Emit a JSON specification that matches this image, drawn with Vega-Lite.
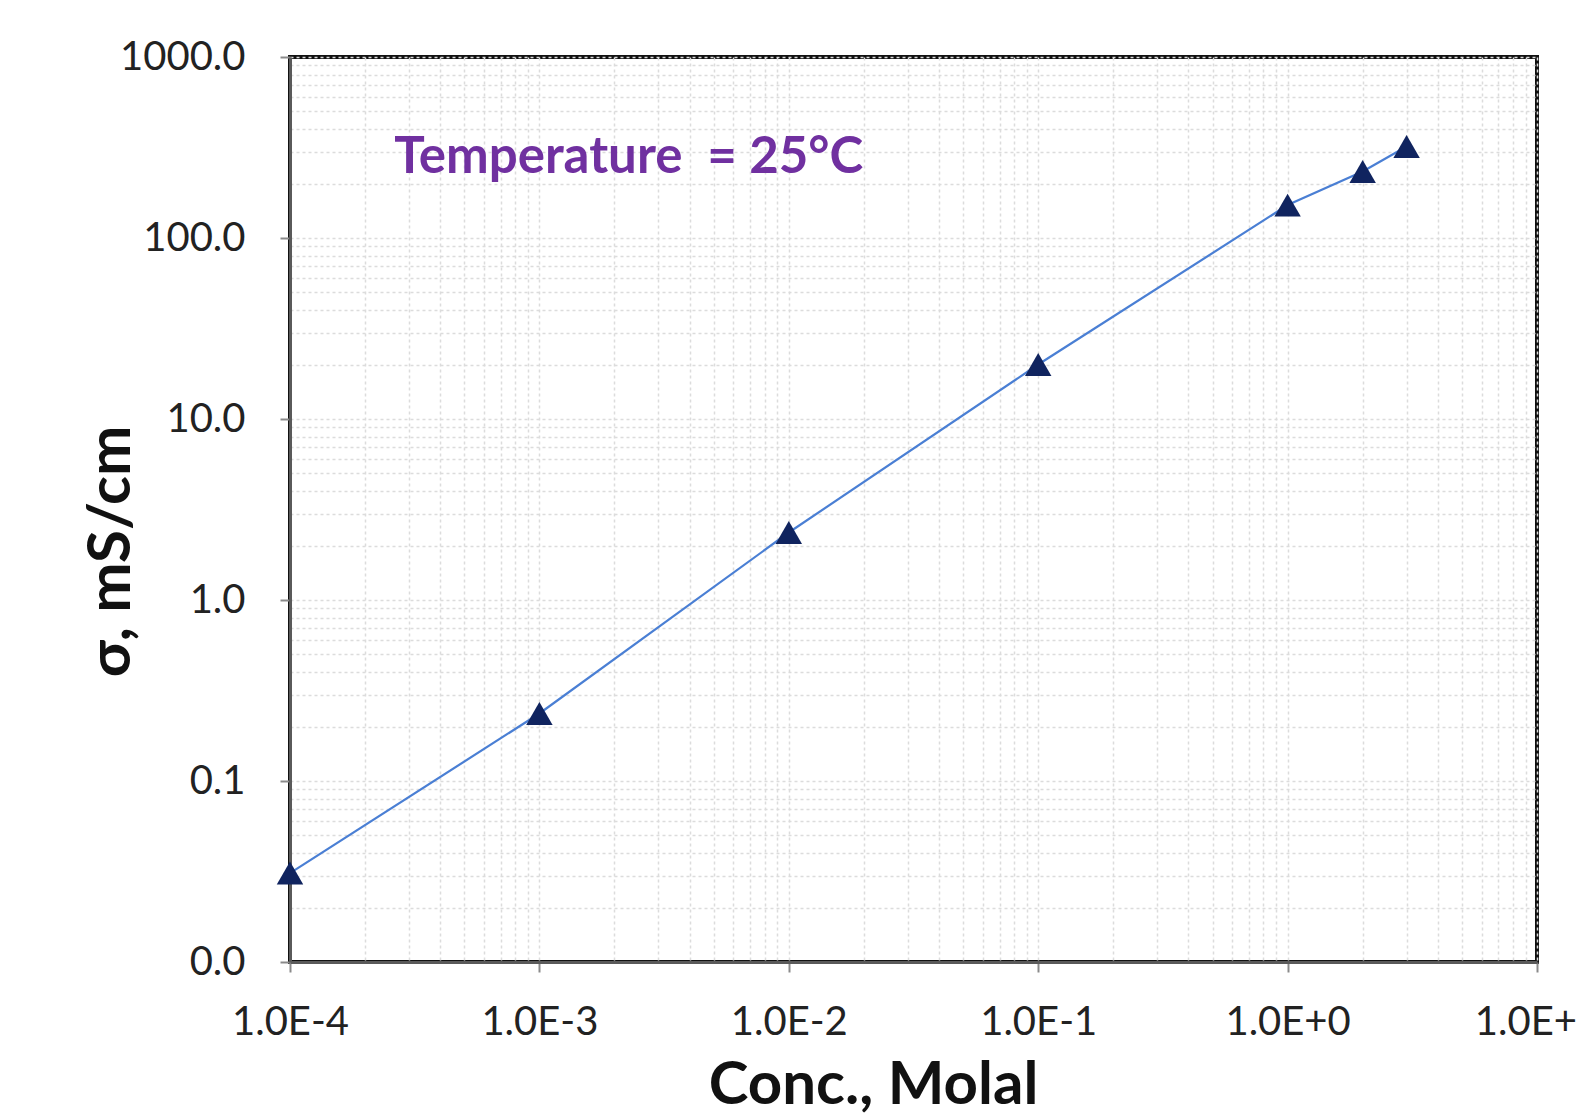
{
  "$schema": "https://vega.github.io/schema/vega-lite/v6.json",
  "autosize": {"type": "none"},
  "width": 1247,
  "height": 905,
  "padding": {"left": 290, "top": 57, "right": 39, "bottom": 152},
  "background": "white",
  "config": {
    "view": {"stroke": "#111111", "strokeWidth": 4},
    "font": "Lato",
    "axis": {
      "labelFont": "Lato",
      "labelFontSize": 40,
      "labelColor": "#222222",
      "titleFont": "Lato",
      "titleColor": "#111111",
      "titleFontWeight": "bold",
      "domainColor": "#5a5a5a",
      "domainWidth": 3,
      "tickColor": "#8a8a8a",
      "tickWidth": 2,
      "tickSize": 10,
      "gridColor": "#dcdcdc",
      "gridDash": [3, 3],
      "gridWidth": 1.5,
      "labelOverlap": false,
      "labelFlush": false,
      "zindex": 1
    }
  },
  "datasets": {
    "pts": [
      {"conc": 0.0001, "sigma": 0.031},
      {"conc": 0.001, "sigma": 0.236},
      {"conc": 0.01, "sigma": 2.36},
      {"conc": 0.1, "sigma": 20.0},
      {"conc": 1, "sigma": 152},
      {"conc": 2, "sigma": 233},
      {"conc": 3, "sigma": 320}
    ],
    "note": [
      {"conc": 0.000262, "sigma": 230, "label": "Temperature \u00a0= 25°C"}
    ]
  },
  "layer": [
    {
      "data": {"name": "pts"},
      "mark": {"type": "line", "color": "#4a7fd4", "strokeWidth": 2.2},
      "encoding": {
        "x": {
          "field": "conc",
          "type": "quantitative",
          "scale": {"type": "log", "domain": [0.0001, 10], "nice": false},
          "axis": {
            "title": "Conc., Molal",
            "titleFontSize": 60,
            "titleX": 583,
            "titleY": 141,
            "titleBaseline": "alphabetic",
            "values": [0.0001, 0.0002, 0.0003, 0.0004, 0.0005, 0.0006, 0.0007, 0.0008, 0.0009,
                       0.001, 0.002, 0.003, 0.004, 0.005, 0.006, 0.007, 0.008, 0.009,
                       0.01, 0.02, 0.03, 0.04, 0.05, 0.06, 0.07, 0.08, 0.09,
                       0.1, 0.2, 0.3, 0.4, 0.5, 0.6, 0.7, 0.8, 0.9,
                       1, 2, 3, 4, 5, 6, 7, 8, 9, 10],
            "labelPadding": 30,
            "labelExpr": "abs(log(datum.value)/LN10 - round(log(datum.value)/LN10)) < 1e-6 ? '1.0E' + (round(log(datum.value)/LN10) >= 0 ? '+' : '') + round(log(datum.value)/LN10) : ''",
            "tickOpacity": {"condition": {"test": "abs(log(datum.value)/LN10 - round(log(datum.value)/LN10)) < 1e-6", "value": 1}, "value": 0}
          }
        },
        "y": {
          "field": "sigma",
          "type": "quantitative",
          "scale": {"type": "log", "domain": [0.01, 1000], "nice": false},
          "axis": {
            "title": "σ, mS/cm",
            "titleFontSize": 60,
            "titleAngle": -90,
            "titleX": -161,
            "titleY": 494,
            "titleBaseline": "alphabetic",
            "titleAlign": "center",
            "values": [0.01, 0.02, 0.03, 0.04, 0.05, 0.06, 0.07, 0.08, 0.09,
                       0.1, 0.2, 0.3, 0.4, 0.5, 0.6, 0.7, 0.8, 0.9,
                       1, 2, 3, 4, 5, 6, 7, 8, 9,
                       10, 20, 30, 40, 50, 60, 70, 80, 90,
                       100, 200, 300, 400, 500, 600, 700, 800, 900, 1000],
            "labelPadding": 35,
            "labelExpr": "abs(log(datum.value)/LN10 - round(log(datum.value)/LN10)) < 1e-6 ? format(datum.value, '.1f') : ''",
            "tickOpacity": {"condition": {"test": "abs(log(datum.value)/LN10 - round(log(datum.value)/LN10)) < 1e-6", "value": 1}, "value": 0}
          }
        }
      }
    },
    {
      "data": {"name": "pts"},
      "mark": {"type": "point", "shape": "triangle-up", "filled": true, "color": "#10245f", "opacity": 1, "size": 700},
      "encoding": {
        "x": {"field": "conc", "type": "quantitative"},
        "y": {"field": "sigma", "type": "quantitative"}
      }
    },
    {
      "data": {"name": "note"},
      "mark": {"type": "text", "align": "left", "baseline": "alphabetic", "font": "Lato", "fontWeight": "bold", "fontSize": 51, "color": "#7030a0"},
      "encoding": {
        "x": {"field": "conc", "type": "quantitative"},
        "y": {"field": "sigma", "type": "quantitative"},
        "text": {"field": "label"}
      }
    }
  ]
}
